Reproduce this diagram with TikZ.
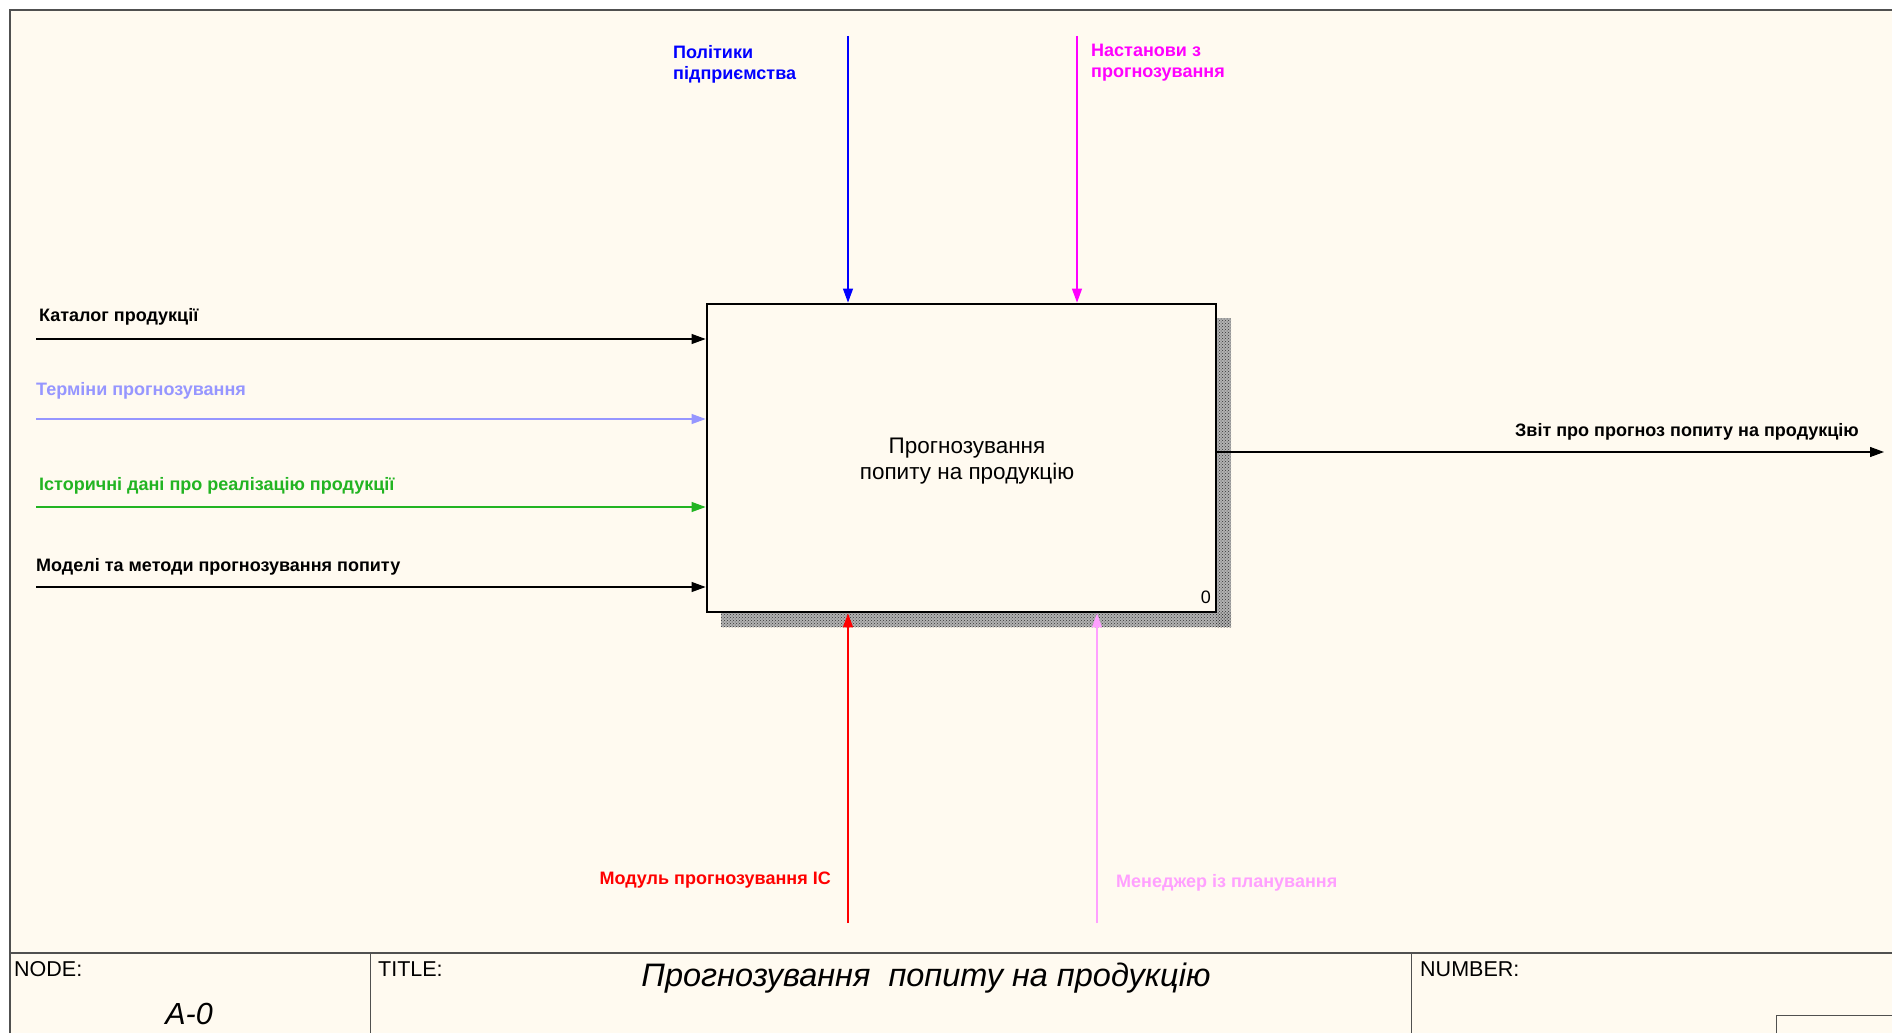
\documentclass[tikz,border=0pt]{standalone}
\usepackage{fontspec}
\setmainfont{Liberation Sans}
\usetikzlibrary{arrows.meta,patterns}
\definecolor{paper}{RGB}{255,250,240}
\definecolor{frame}{RGB}{80,80,80}
\definecolor{cblue}{RGB}{0,0,255}
\definecolor{cmag}{RGB}{255,0,255}
\definecolor{cterm}{RGB}{150,150,255}
\definecolor{cgreen}{RGB}{34,180,34}
\definecolor{cred}{RGB}{255,0,0}
\definecolor{cpink}{RGB}{255,160,255}
\tikzset{
  conn/.style={line width=1.1pt,-{Triangle[length=14pt,width=10pt]}},
  lbl/.style={inner sep=0pt,font=\bfseries\fontsize{18}{21}\selectfont,align=left},
  actbox/.style={draw=black,line width=2.8pt,fill=paper,minimum width=509pt,minimum height=308pt,inner sep=0pt},
  hdr/.style={inner sep=0pt,anchor=west,font=\fontsize{21.5}{24}\selectfont},
  framel/.style={draw=frame,line width=1.5pt}
}
\begin{document}
\begin{tikzpicture}[x=1pt,y=-1pt]
\useasboundingbox (0,0) rectangle (1892,1033);
\fill[white] (0,0) rectangle (1892,1033);
\fill[paper] (10,10) rectangle (1892,1033);
\draw[framel] (10,1033) -- (10,10) -- (1892,10);
% title block
\draw[framel] (10,953) -- (1892,953);
\draw[frame,line width=1pt] (370,953) -- (370,1033);
\draw[frame,line width=1pt] (1411,953) -- (1411,1033);
\draw[frame,line width=1pt] (1776,1033) -- (1776,1015) -- (1892,1015);
\node[hdr] (nodehdr) at (14,969) {NODE:};
\node[hdr] (titlehdr) at (378,969) {TITLE:};
\node[hdr] (numhdr) at (1420,969) {NUMBER:};
\node[inner sep=0pt,font=\itshape\fontsize{32.5}{35}\selectfont] (title) at (926,978.5) {Прогнозування\ \ попиту на продукцію};
\node[inner sep=0pt,font=\itshape\fontsize{30.5}{33}\selectfont] (nodeid) at (189,1014) {A-0};
% shadow
\fill[black!30] (1216,318) rectangle (1231,627);
\fill[black!30] (721,612) rectangle (1231,627);
\fill[pattern=crosshatch dots,pattern color=black!80] (1216,318) rectangle (1231,627);
\fill[pattern=crosshatch dots,pattern color=black!80] (721,612) rectangle (1231,627);
% activity box
\node[actbox] (box) at (961.5,458) {};
\node[inner sep=0pt,align=center,font=\fontsize{22.5}{26}\selectfont] (boxtext) at (967,461) {Прогнозування\\попиту на продукцію};
\node[inner sep=0pt,font=\fontsize{18}{20}\selectfont,anchor=east] (boxnum) at (1211,597) {0};
% free ends
\coordinate (i1) at (36,339);
\coordinate (i2) at (36,419);
\coordinate (i3) at (36,507);
\coordinate (i4) at (36,587);
\coordinate (c1) at (848,36);
\coordinate (c2) at (1077,36);
\coordinate (m1) at (848,923);
\coordinate (m2) at (1097,923);
\coordinate (o1) at (1884,452);
% inputs
\draw[conn,black] (i1) -- (i1 -| box.west);
\draw[conn,cterm] (i2) -- (i2 -| box.west);
\draw[conn,cgreen] (i3) -- (i3 -| box.west);
\draw[conn,black] (i4) -- (i4 -| box.west);
% controls
\draw[conn,cblue] (c1) -- (c1 |- box.north);
\draw[conn,cmag] (c2) -- (c2 |- box.north);
% mechanisms
\draw[conn,cred] (m1) -- (m1 |- box.south);
\draw[conn,cpink] (m2) -- (m2 |- box.south);
% output
\draw[conn,black] (o1 -| box.east) -- (o1);
% labels
\node[lbl,anchor=west] (li1) at (39,316.5) {Каталог продукції};
\node[lbl,anchor=west,text=cterm] (li2) at (36,390.5) {Терміни прогнозування};
\node[lbl,anchor=west,text=cgreen] (li3) at (39,485.5) {Історичні дані про реалізацію продукції};
\node[lbl,anchor=west] (li4) at (36,566.5) {Моделі та методи прогнозування попиту};
\node[lbl,anchor=west,text=cblue] (lc1) at (673,64) {Політики\\підприємства};
\node[lbl,anchor=west,text=cmag] (lc2) at (1091,63) {Настанови з\\прогнозування};
\node[lbl,anchor=east] (lo1) at (1859,432) {Звіт про прогноз попиту на продукцію};
\node[lbl,anchor=east,text=cred] (lm1) at (831,880) {Модуль прогнозування ІС};
\node[lbl,anchor=west,text=cpink] (lm2) at (1116,883) {Менеджер із планування};
\end{tikzpicture}
\end{document}
